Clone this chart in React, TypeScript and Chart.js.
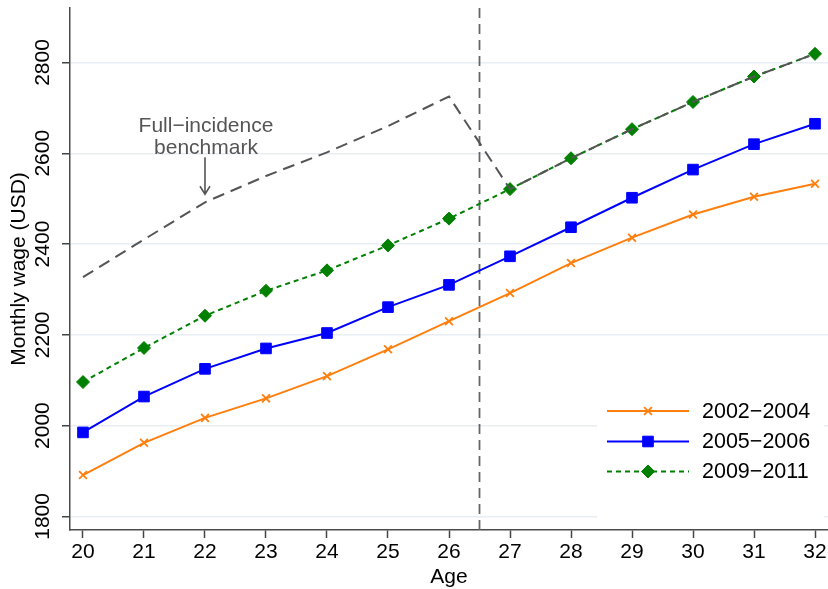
import React, { useEffect, useRef } from "react";
import { Chart, registerables } from "chart.js";

Chart.register(...registerables);

const ages = [20, 21, 22, 23, 24, 25, 26, 27, 28, 29, 30, 31, 32];
const wage0204 = [1891, 1962, 2017, 2060, 2109, 2168, 2230, 2292, 2358, 2414, 2465, 2504, 2533];
const wage0506 = [1985, 2064, 2125, 2170, 2204, 2261, 2310, 2373, 2437, 2502, 2564, 2620, 2665];
const wage0911 = [2096, 2171, 2242, 2297, 2342, 2397, 2456, 2521, 2589, 2653, 2713, 2769, 2819];
const benchmark = [2327, 2410, 2492, 2550, 2602, 2660, 2725, 2521, 2589, 2653, 2713, 2769, 2819];
const yTicks = [1800, 2000, 2200, 2400, 2600, 2800];
const seriesLabels = ["2002\u22122004", "2005\u22122006", "2009\u22122011"];
const yTitle = "Monthly wage (USD)";
const xTitle = "Age";
const cutoffAge = 26.5;
const annotationLines = ["Full\u2212incidence", "benchmark"];
const annotationAge = 22;

const FONT = "'Liberation Sans', Arial, Helvetica, sans-serif";
const ORANGE = "#ff7f0e";
const BLUE = "#0000ff";
const GREEN = "#008000";
const GRAY = "#555555";

function pts(vals: number[]) {
  return ages.map((a, i) => ({ x: a, y: vals[i] }));
}

function drawMarker(ctx: CanvasRenderingContext2D, style: string, x: number, y: number, r: number, color: string, bw: number) {
  ctx.save();
  ctx.fillStyle = color;
  ctx.strokeStyle = color;
  ctx.lineWidth = bw;
  ctx.setLineDash([]);
  ctx.beginPath();
  if (style === "crossRot") {
    const o = Math.SQRT1_2 * r;
    ctx.moveTo(x - o, y - o);
    ctx.lineTo(x + o, y + o);
    ctx.moveTo(x - o, y + o);
    ctx.lineTo(x + o, y - o);
    ctx.stroke();
  } else if (style === "rect") {
    const s = Math.SQRT1_2 * r;
    ctx.rect(x - s, y - s, 2 * s, 2 * s);
    ctx.fill();
    ctx.stroke();
  } else {
    ctx.moveTo(x - r, y);
    ctx.lineTo(x, y - r);
    ctx.lineTo(x + r, y);
    ctx.lineTo(x, y + r);
    ctx.closePath();
    ctx.fill();
    ctx.stroke();
  }
  ctx.restore();
}

const customPlugin = {
  id: "custom",
  beforeDatasetsDraw(chart: any) {
    const { ctx, chartArea, scales } = chart;
    const x = scales.x.getPixelForValue(cutoffAge);
    ctx.save();
    ctx.strokeStyle = "#666666";
    ctx.lineWidth = 1.8;
    ctx.setLineDash([10, 6]);
    ctx.beginPath();
    ctx.moveTo(x, chartArea.top);
    ctx.lineTo(x, chartArea.bottom);
    ctx.stroke();
    ctx.restore();
  },
  afterDraw(chart: any) {
    const { ctx, chartArea, scales } = chart;
    const xs = scales.x;
    const ys = scales.y;
    ctx.save();
    ctx.fillStyle = "#000";
    ctx.font = `21px ${FONT}`;
    ctx.textAlign = "center";
    ctx.textBaseline = "middle";
    for (const v of yTicks) {
      const py = ys.getPixelForValue(v);
      ctx.save();
      ctx.translate(chartArea.left - 27, py);
      ctx.rotate(-Math.PI / 2);
      ctx.fillText(String(v), 0, 0);
      ctx.restore();
    }
    ctx.save();
    ctx.translate(chartArea.left - 51, (chartArea.top + chartArea.bottom) / 2);
    ctx.rotate(-Math.PI / 2);
    ctx.fillText(yTitle, 0, 0);
    ctx.restore();
    ctx.fillText(xTitle, (chartArea.left + chartArea.right) / 2, chartArea.bottom + 47);

    const ax = xs.getPixelForValue(annotationAge);
    const idx = ages.indexOf(annotationAge);
    const tipY = ys.getPixelForValue(benchmark[idx]) - 8;
    ctx.fillStyle = GRAY;
    ctx.strokeStyle = GRAY;
    ctx.fillText(annotationLines[0], ax + 1, tipY - 68);
    ctx.fillText(annotationLines[1], ax + 1, tipY - 46);
    ctx.lineWidth = 1.6;
    ctx.setLineDash([]);
    ctx.beginPath();
    ctx.moveTo(ax, tipY - 37);
    ctx.lineTo(ax, tipY);
    ctx.moveTo(ax - 5, tipY - 8);
    ctx.lineTo(ax, tipY);
    ctx.lineTo(ax + 5, tipY - 8);
    ctx.stroke();

    const bx = chartArea.right - 231;
    const by = chartArea.bottom - 137;
    ctx.fillStyle = "#ffffff";
    ctx.fillRect(bx, by, 227, 130);
    const entries = [
      { color: ORANGE, dash: [] as number[], style: "crossRot", r: 5.5, bw: 1.8 },
      { color: BLUE, dash: [] as number[], style: "rect", r: 7.5, bw: 1 },
      { color: GREEN, dash: [5, 4], style: "rectRot", r: 6.5, bw: 1 },
    ];
    const rowY = [chartArea.bottom - 119, chartArea.bottom - 88.5, chartArea.bottom - 58.5];
    entries.forEach((e, i) => {
      const y = rowY[i];
      ctx.save();
      ctx.strokeStyle = e.color;
      ctx.lineWidth = 2;
      ctx.setLineDash(e.dash);
      ctx.beginPath();
      ctx.moveTo(chartArea.right - 221, y);
      ctx.lineTo(chartArea.right - 139, y);
      ctx.stroke();
      ctx.restore();
      drawMarker(ctx, e.style, chartArea.right - 180, y, e.r, e.color, e.bw);
      ctx.fillStyle = "#000";
      ctx.textAlign = "left";
      ctx.textBaseline = "middle";
      ctx.font = `21.5px ${FONT}`;
      ctx.fillText(seriesLabels[i], chartArea.right - 126, y + 1);
    });
    ctx.restore();
  },
};

export default function App() {
  const ref = useRef<HTMLCanvasElement | null>(null);
  useEffect(() => {
    document.body.style.margin = "0";
    const canvas = ref.current;
    if (!canvas) return;
    const chart = new Chart(canvas, {
      type: "line",
      data: {
        datasets: [
          {
            label: "Full-incidence benchmark",
            data: pts(benchmark),
            borderColor: GRAY,
            borderWidth: 2,
            borderDash: [12, 7],
            pointRadius: 0,
            fill: false,
            order: 0,
          },
          {
            label: seriesLabels[2],
            data: pts(wage0911),
            borderColor: GREEN,
            backgroundColor: GREEN,
            borderWidth: 2,
            borderDash: [5, 4],
            pointStyle: "rectRot",
            pointRadius: 6.5,
            pointBorderWidth: 1,
            fill: false,
            order: 1,
          },
          {
            label: seriesLabels[1],
            data: pts(wage0506),
            borderColor: BLUE,
            backgroundColor: BLUE,
            borderWidth: 2,
            pointStyle: "rect",
            pointRadius: 7.5,
            pointBorderWidth: 1,
            fill: false,
            order: 2,
          },
          {
            label: seriesLabels[0],
            data: pts(wage0204),
            borderColor: ORANGE,
            backgroundColor: ORANGE,
            borderWidth: 2,
            pointStyle: "crossRot",
            pointRadius: 5.5,
            pointBorderWidth: 1.8,
            fill: false,
            order: 3,
          },
        ],
      },
      options: {
        responsive: false,
        animation: false,
        layout: { autoPadding: false, padding: { top: 8, right: 0, left: 0, bottom: 0 } },
        plugins: { legend: { display: false }, tooltip: { enabled: false } },
        scales: {
          x: {
            type: "linear",
            min: 19.787,
            max: 32.213,
            afterBuildTicks: (s: any) => {
              s.ticks = ages.map((v) => ({ value: v }));
            },
            afterFit: (s: any) => {
              s.height = 59;
              s.paddingLeft = 0;
              s.paddingRight = 0;
            },
            ticks: {
              font: { family: FONT, size: 21 },
              color: "#000",
              padding: 2,
              maxRotation: 0,
              minRotation: 0,
              callback: (v: any) => String(v),
            },
            grid: {
              drawOnChartArea: false,
              drawTicks: true,
              tickLength: 8,
              tickColor: "#444",
              tickWidth: 1.5,
            },
            border: { color: "#4a4a4a", width: 1.5 },
          },
          y: {
            type: "linear",
            min: 1770,
            max: 2920,
            afterBuildTicks: (s: any) => {
              s.ticks = yTicks.map((v) => ({ value: v }));
            },
            afterFit: (s: any) => {
              s.width = 70;
              s.paddingTop = 0;
              s.paddingBottom = 0;
            },
            ticks: { display: false },
            grid: {
              color: "#e8eef3",
              lineWidth: 1.5,
              drawTicks: true,
              tickLength: 8,
              tickColor: "#444",
              tickWidth: 1.5,
            },
            border: { color: "#4a4a4a", width: 1.5 },
          },
        },
      },
      plugins: [customPlugin],
    } as any);
    return () => chart.destroy();
  }, []);
  return (
    <div style={{ width: 828, height: 589 }}>
      <canvas ref={ref} width={828} height={589} style={{ display: "block" }} />
    </div>
  );
}
